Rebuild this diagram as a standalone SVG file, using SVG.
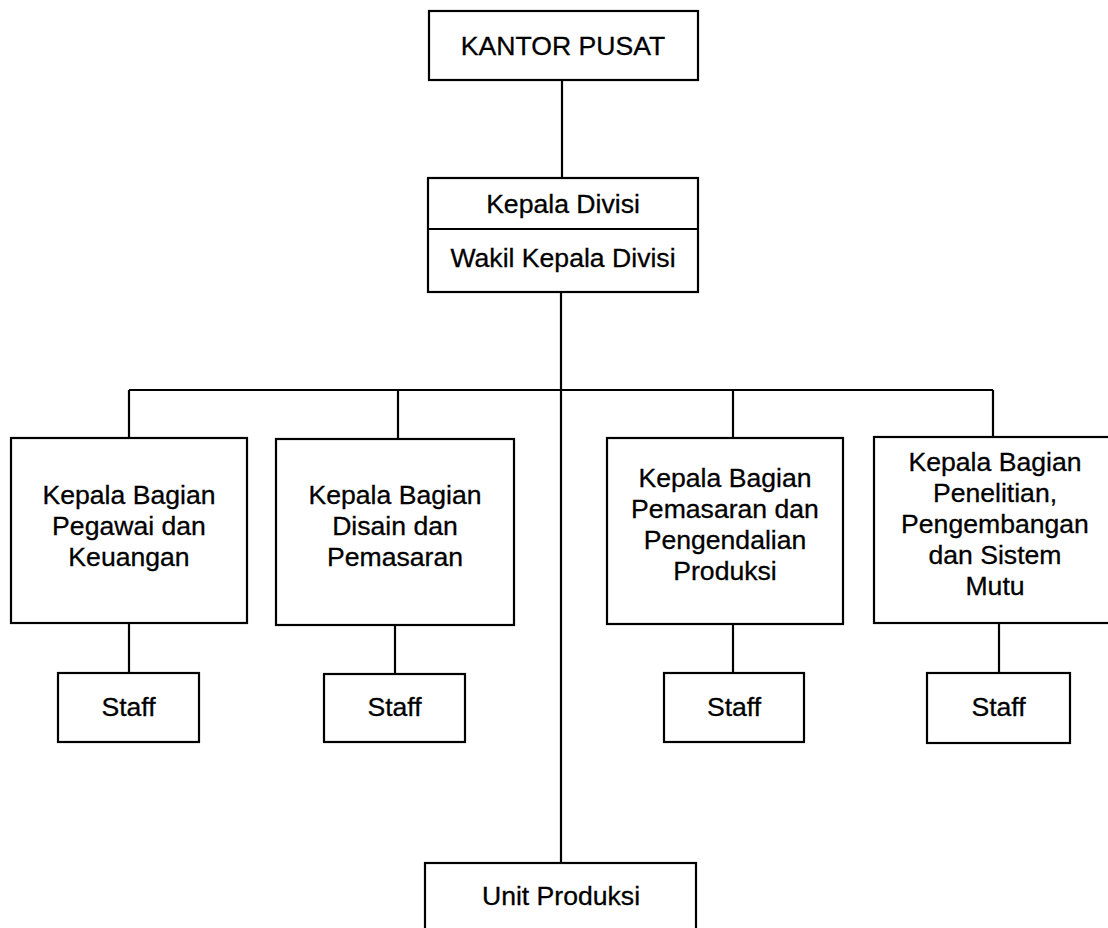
<svg xmlns="http://www.w3.org/2000/svg" width="1108" height="928" viewBox="0 0 1108 928">
<style>
.box{fill:#fff;stroke:#000;stroke-width:2.2}
.ln{stroke:#000;stroke-width:2.2;fill:none}
text{font-family:"Liberation Sans",Arial,sans-serif;font-size:26.6px;fill:#000;stroke:#000;stroke-width:0.3;text-anchor:middle}
</style>
<rect width="1108" height="928" fill="#fff"/>
<g id="connectors">
<path class="ln" d="M562 80V178"/>
<path class="ln" d="M561 292V863"/>
<path class="ln" d="M129 390H993"/>
<path class="ln" d="M129 390V438"/>
<path class="ln" d="M398 390V439"/>
<path class="ln" d="M733 390V438"/>
<path class="ln" d="M993 390V437"/>
<path class="ln" d="M129 623V673"/>
<path class="ln" d="M395 625V674"/>
<path class="ln" d="M733 624V673"/>
<path class="ln" d="M999 623V673"/>
</g>
<g id="kantor-pusat">
<rect class="box" x="429" y="11" width="269" height="69"/>
<text x="563" y="55">KANTOR PUSAT</text>
</g>
<g id="kepala-divisi">
<rect class="box" x="428" y="178" width="270" height="114"/>
<path class="ln" d="M428 229H698"/>
<text x="563" y="213">Kepala Divisi</text>
<text x="563" y="267">Wakil Kepala Divisi</text>
</g>
<g id="bagian-pegawai">
<rect class="box" x="11" y="438" width="236" height="185"/>
<text x="129" y="504">Kepala Bagian</text>
<text x="129" y="535">Pegawai dan</text>
<text x="129" y="566">Keuangan</text>
</g>
<g id="bagian-disain">
<rect class="box" x="276" y="439" width="238" height="186"/>
<text x="395" y="504">Kepala Bagian</text>
<text x="395" y="535">Disain dan</text>
<text x="395" y="566">Pemasaran</text>
</g>
<g id="bagian-pemasaran">
<rect class="box" x="607" y="438" width="236" height="186"/>
<text x="725" y="487">Kepala Bagian</text>
<text x="725" y="518">Pemasaran dan</text>
<text x="725" y="549">Pengendalian</text>
<text x="725" y="580">Produksi</text>
</g>
<g id="bagian-penelitian">
<rect class="box" x="874" y="437" width="250" height="186"/>
<text x="995" y="471">Kepala Bagian</text>
<text x="995" y="502">Penelitian,</text>
<text x="995" y="533">Pengembangan</text>
<text x="995" y="564">dan Sistem</text>
<text x="995" y="595">Mutu</text>
</g>
<g id="staff-1">
<rect class="box" x="58" y="673" width="141" height="69"/>
<text x="128.5" y="716">Staff</text>
</g>
<g id="staff-2">
<rect class="box" x="324" y="674" width="141" height="68"/>
<text x="394.5" y="716">Staff</text>
</g>
<g id="staff-3">
<rect class="box" x="664" y="673" width="140" height="69"/>
<text x="734" y="716">Staff</text>
</g>
<g id="staff-4">
<rect class="box" x="927" y="673" width="143" height="70"/>
<text x="998.5" y="716">Staff</text>
</g>
<g id="unit-produksi">
<rect class="box" x="425" y="863" width="271" height="80"/>
<text x="561" y="905">Unit Produksi</text>
</g>
</svg>
